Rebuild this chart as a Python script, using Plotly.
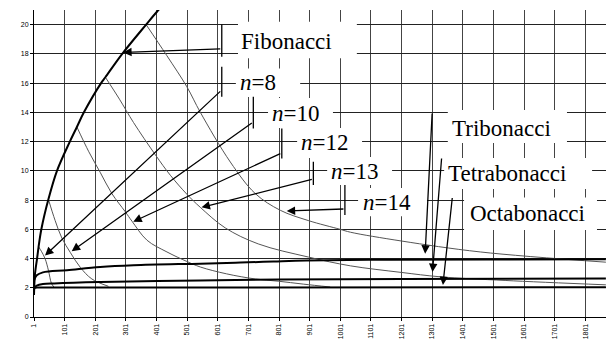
import plotly.graph_objects as go

# curves (x = step, y = value)
fib_x = [1, 4, 11, 16, 25, 48, 76, 118, 141, 164, 220, 234, 289, 367, 403, 440]
fib_y = [1.5, 2.9, 4.0, 4.8, 6.0, 8.05, 10.0, 12.0, 13.0, 14.0, 16.0, 16.4, 18.0, 20.0, 20.9, 21.7]

n8_x = [16, 25, 37, 48, 58, 66]
n8_y = [4.8, 4.5, 4.0, 3.2, 2.3, 2.05]

n10_x = [48, 70, 92, 120, 152, 190, 244]
n10_y = [8.05, 6.6, 5.4, 4.4, 3.4, 2.6, 2.1]

n12_x = [141, 180, 217, 255, 299, 321, 370, 435, 500, 544, 630, 724, 798, 880, 968]
n12_y = [13.0, 11.3, 9.9, 8.45, 7.2, 6.55, 5.25, 4.45, 3.8, 3.42, 2.95, 2.6, 2.45, 2.25, 2.05]

n13_x = [234, 280, 326, 397, 446, 500, 544, 625, 733, 897, 1034, 1200, 1327, 1539, 1868]
n13_y = [16.4, 14.9, 13.3, 11.1, 9.7, 8.4, 7.5, 6.1, 5.0, 4.1, 3.5, 3.05, 2.75, 2.5, 2.2]

n14_x = [367, 434, 500, 544, 642, 723, 805, 896, 1000, 1034, 1200, 1458, 1868]
n14_y = [20.0, 17.9, 15.75, 14.0, 10.6, 8.45, 7.3, 6.6, 6.0, 5.8, 5.2, 4.45, 3.75]

tri_x = [1, 10, 30, 109, 217, 326, 544, 675, 783, 890, 1164, 1500, 1868]
tri_y = [2.5, 2.85, 3.05, 3.2, 3.42, 3.54, 3.65, 3.72, 3.8, 3.87, 3.92, 3.94, 3.95]

tetra_x = [1, 10, 30, 67, 217, 544, 800, 1200, 1868]
tetra_y = [2.0, 2.15, 2.25, 2.3, 2.4, 2.5, 2.56, 2.6, 2.63]

octa_x = [1, 5, 20, 1868]
octa_y = [1.9, 2.0, 2.02, 2.03]

x_ticks = list(range(1, 1802, 100))
y_ticks = list(range(0, 21, 2))

fig = go.Figure()

thin = dict(color="#555", width=1)
thick = dict(color="black", width=2)
for xs, ys in [(n8_x, n8_y), (n10_x, n10_y), (n12_x, n12_y), (n13_x, n13_y), (n14_x, n14_y)]:
    fig.add_trace(go.Scatter(x=xs, y=ys, mode="lines", line=thin, line_shape="spline"))
for xs, ys in [(fib_x, fib_y), (tri_x, tri_y), (tetra_x, tetra_y), (octa_x, octa_y)]:
    fig.add_trace(go.Scatter(x=xs, y=ys, mode="lines", line=thick, line_shape="spline"))

serif = dict(family="Liberation Serif, Times New Roman, serif", size=23, color="black")

# label: text, text x, text y, box (x0, x1, y0, y1), arrow tail, arrow tip, bar (y0, y1) or None
labels = [
    ("Fibonacci", 670, 18.85, (667, 1055, 17.7, 20.2), (614, 18.35), (292, 18.1), (17.8, 20.0)),
    ("<i>n</i>=8", 667, 16.05, (660, 870, 15.05, 17.0), (614, 15.53), (37, 4.2), (15.07, 17.12)),
    ("<i>n</i>=10", 771, 13.9, (765, 977, 12.93, 14.98), (717, 13.34), (124, 4.5), (12.9, 15.07)),
    ("<i>n</i>=12", 866, 11.95, (860, 1072, 10.88, 12.93), (810, 11.22), (325, 6.52), (10.85, 12.9)),
    ("<i>n</i>=13", 964, 9.97, (958, 1170, 9.03, 10.94), (913, 9.44), (548, 7.5), (9.03, 10.62)),
    ("<i>n</i>=14", 1068, 7.85, (1059, 1284, 6.9, 8.82), (1016, 7.39), (826, 7.25), (6.98, 9.03)),
    ("Tribonacci", 1359, 12.9, (1352, 1741, 11.9, 14.16), (1301, 14.02), (1278, 4.33), None),
    ("Tetrabonacci", 1346, 9.85, (1340, 1823, 8.76, 10.88), (1332, 10.94), (1302, 3.08), None),
    ("Octabonacci", 1418, 7.1, (1405, 1839, 5.95, 8.18), (1367, 8.24), (1336, 2.19), None),
]

for text, tx, ty, box, tail, tip, bar in labels:
    fig.add_shape(type="rect", x0=box[0], x1=box[1], y0=box[2], y1=box[3],
                  fillcolor="white", line_width=0, layer="between")
    fig.add_annotation(x=tx, y=ty, text=text, showarrow=False, xanchor="left", yanchor="middle",
                       font=serif)
    fig.add_annotation(x=tip[0], y=tip[1], ax=tail[0], ay=tail[1], axref="x", ayref="y",
                       text="", showarrow=True, arrowhead=2, arrowsize=1.3, arrowwidth=1.3,
                       arrowcolor="black", standoff=0)
    if bar:
        fig.add_shape(type="line", x0=tail[0], x1=tail[0], y0=bar[0], y1=bar[1],
                      line=dict(color="black", width=1.3), layer="above")

tick_font = dict(family="Liberation Sans, Arial, sans-serif", size=7, color="black")
fig.update_layout(
    width=607, height=341,
    margin=dict(l=34, r=1, t=10, b=24),
    plot_bgcolor="white", paper_bgcolor="white",
    showlegend=False,
    xaxis=dict(range=[1, 1868.4], tickvals=x_ticks, ticktext=[str(v) for v in x_ticks],
               tickangle=-90, tickfont=tick_font, ticks="outside", ticklen=3, tickcolor="black",
               showgrid=True, gridcolor="#444", gridwidth=1, showline=True, linecolor="black",
               zeroline=False),
    yaxis=dict(range=[0, 21], tickvals=y_ticks, tickfont=tick_font, ticks="outside", ticklen=3,
               tickcolor="black", showgrid=True, gridcolor="#222", gridwidth=1, showline=True,
               linecolor="black", zeroline=False),
)

# drop the page's default body margin so the figure sits at the window's corner
fig.write_html("out.html", config={"displayModeBar": False},
               post_script="document.body.style.margin='0';")
